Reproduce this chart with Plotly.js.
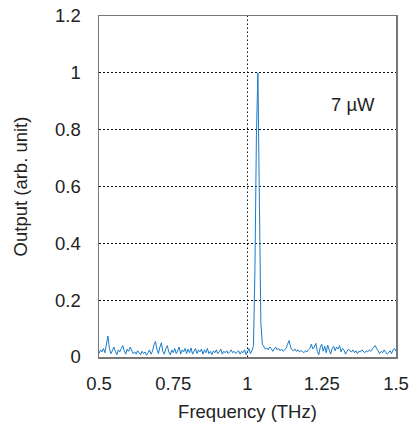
<!DOCTYPE html>
<html>
<head>
<meta charset="utf-8">
<script src="https://cdn.plot.ly/plotly-3.0.1.min.js"></script>
<style>html,body{margin:0;padding:0;background:#fff;}#chart{width:409px;height:424px;}</style>
</head>
<body>
<div id="chart"></div>
<script>
// Spectrum sampled from 0.5 THz in steps of 0.005 THz
const freqStart = 0.5;
const freqStep = 0.005;
const output = [
  0.012, 0.025, 0.018, 0.030, 0.015, 0.040, 0.074, 0.030, 0.012, 0.022,
  0.035, 0.020, 0.008, 0.025, 0.018, 0.030, 0.040, 0.022, 0.010, 0.028,
  0.020, 0.035, 0.025, 0.012, 0.018, 0.010, 0.022, 0.015, 0.008, 0.020,
  0.012, 0.018, 0.006, 0.015, 0.025, 0.010, 0.020, 0.042, 0.055, 0.028,
  0.012, 0.035, 0.050, 0.020, 0.010, 0.030, 0.040, 0.018, 0.008, 0.025,
  0.015, 0.030, 0.012, 0.022, 0.035, 0.010, 0.025, 0.018, 0.030, 0.012,
  0.028, 0.015, 0.032, 0.010, 0.022, 0.030, 0.012, 0.025, 0.018, 0.028,
  0.010, 0.025, 0.015, 0.030, 0.012, 0.020, 0.008, 0.022, 0.015, 0.025,
  0.012, 0.018, 0.028, 0.010, 0.020, 0.015, 0.022, 0.012, 0.018, 0.025,
  0.015, 0.020, 0.012, 0.018, 0.022, 0.010, 0.020, 0.015, 0.025, 0.008,
  0.018, 0.030, 0.012, 0.022, 0.040, 0.300, 0.780, 1.000, 0.550, 0.120,
  0.045, 0.035, 0.028, 0.032, 0.025, 0.035, 0.030, 0.020, 0.028, 0.035,
  0.025, 0.030, 0.022, 0.028, 0.020, 0.025, 0.030, 0.045, 0.058, 0.035,
  0.025, 0.022, 0.028, 0.020, 0.025, 0.018, 0.022, 0.020, 0.015, 0.022,
  0.018, 0.025, 0.030, 0.045, 0.028, 0.035, 0.048, 0.020, 0.008, 0.035,
  0.045, 0.020, 0.038, 0.015, 0.042, 0.025, 0.010, 0.030, 0.038, 0.022,
  0.035, 0.028, 0.040, 0.018, 0.030, 0.025, 0.010, 0.020, 0.028, 0.022,
  0.018, 0.025, 0.015, 0.022, 0.012, 0.020, 0.018, 0.025, 0.020, 0.015,
  0.022, 0.018, 0.025, 0.020, 0.028, 0.035, 0.040, 0.030, 0.018, 0.012,
  0.020, 0.015, 0.025, 0.018, 0.010, 0.015, 0.022, 0.012, 0.025, 0.030, 0.020
];
const xTicks = [0.5, 0.75, 1, 1.25, 1.5];
const xTickLabels = ['0.5', '0.75', '1', '1.25', '1.5'];
const yTicks = [0, 0.2, 0.4, 0.6, 0.8, 1, 1.2];
const yTickLabels = ['0', '0.2', '0.4', '0.6', '0.8', '1', '1.2'];
const label = '7 µW';
const labelPos = [1.355, 0.89];
const markerLine = 1;

const font = {family: 'Liberation Sans, Arial, sans-serif', size: 18.5, color: '#222'};

Plotly.newPlot('chart', [{
  type: 'scatter', mode: 'lines',
  x0: freqStart, dx: freqStep, y: output,
  line: {color: '#1b7bc8', width: 1},
  hoverinfo: 'none'
}], {
  width: 409, height: 424,
  margin: {l: 99, r: 13, t: 16, b: 67},
  paper_bgcolor: '#fff', plot_bgcolor: '#fff',
  font: font,
  showlegend: false,
  xaxis: {
    range: [0.5, 1.5], tickvals: xTicks, ticktext: xTickLabels,
    showgrid: false, zeroline: false,
    showline: true, mirror: true, linecolor: '#777', linewidth: 1.5,
    ticks: 'outside', ticklen: 0, ticklabelstandoff: 9,
    title: {text: 'Frequency (THz)', font: font, standoff: 12}
  },
  yaxis: {
    range: [0, 1.2], tickvals: yTicks, ticktext: yTickLabels,
    showgrid: true, gridcolor: '#111', griddash: '1.5px,2.5px', gridwidth: 1,
    zeroline: false,
    showline: true, mirror: true, linecolor: '#777', linewidth: 1.5,
    ticks: 'outside', ticklen: 0, ticklabelstandoff: 13,
    title: {text: 'Output (arb. unit)', font: font, standoff: 22}
  },
  shapes: [{
    type: 'line', xref: 'x', yref: 'paper', x0: markerLine, x1: markerLine, y0: 0, y1: 1,
    line: {color: '#111', width: 1, dash: '1.5px,2.5px'}, layer: 'below'
  }],
  annotations: [{
    x: labelPos[0], y: labelPos[1], xref: 'x', yref: 'y', text: label,
    showarrow: false, font: font
  }]
}, {staticPlot: true, displayModeBar: false});
</script>
</body>
</html>
